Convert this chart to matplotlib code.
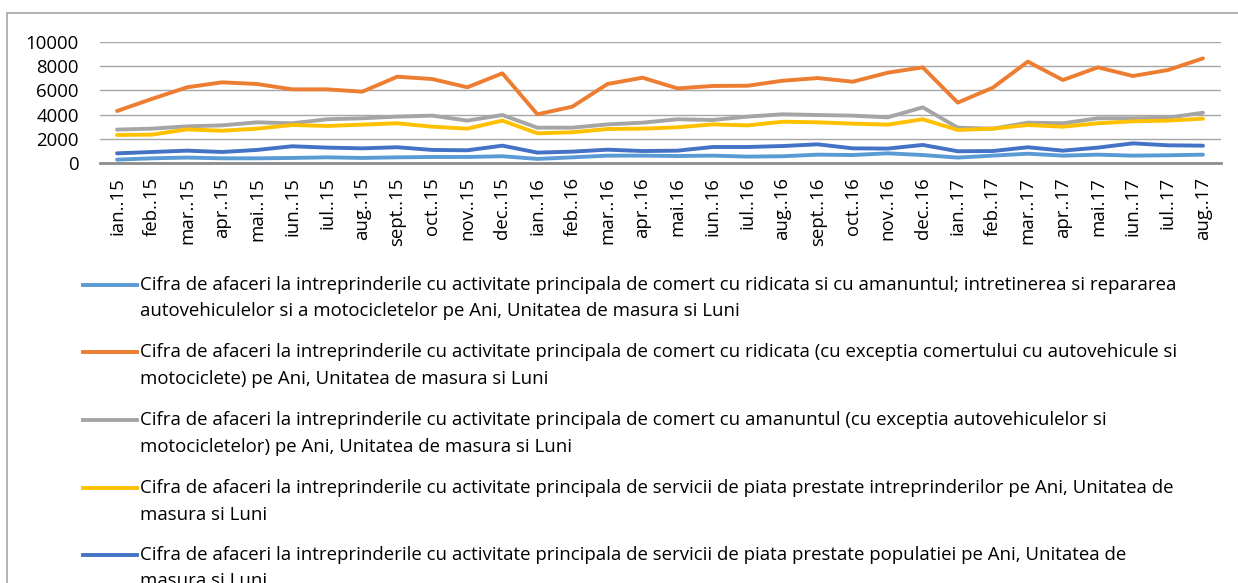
import numpy as np
import matplotlib.pyplot as plt
from matplotlib.lines import Line2D
from matplotlib.patches import Rectangle

plt.rcParams['font.family'] = ['Open Sans', 'DejaVu Sans']

months = ["ian..15", "feb..15", "mar..15", "apr..15", "mai..15", "iun..15", "iul..15", "aug..15",
          "sept..15", "oct..15", "nov..15", "dec..15", "ian..16", "feb..16", "mar..16", "apr..16",
          "mai.16", "iun..16", "iul..16", "aug..16", "sept..16", "oct..16", "nov..16", "dec..16",
          "ian..17", "feb..17", "mar..17", "apr..17", "mai.17", "iun..17", "iul..17", "aug..17"]

auto_moto = [300, 410, 470, 410, 410, 440, 490, 440, 490, 520, 520, 580, 360, 490, 630, 630,
             600, 630, 550, 580, 710, 680, 820, 680, 470, 630, 790, 630, 710, 630, 660, 710]
ridicata = [4300, 5300, 6250, 6660, 6520, 6080, 6080, 5890, 7120, 6930, 6250, 7400, 4030, 4660, 6520, 7040,
            6160, 6360, 6380, 6790, 7010, 6710, 7450, 7890, 4990, 6220, 8360, 6850, 7890, 7180, 7670, 8630]
amanunt = [2770, 2850, 3040, 3120, 3370, 3290, 3620, 3700, 3840, 3920, 3510, 3970, 2930, 2930, 3200, 3340,
           3620, 3560, 3840, 4030, 3970, 3920, 3780, 4600, 2930, 2850, 3340, 3290, 3700, 3700, 3750, 4160]
serv_intrep = [2330, 2360, 2790, 2680, 2850, 3150, 3070, 3180, 3290, 3010, 2850, 3510, 2470, 2550, 2820, 2850,
               2960, 3200, 3120, 3420, 3370, 3260, 3180, 3620, 2740, 2850, 3150, 3010, 3290, 3450, 3510, 3670]
serv_popul = [820, 930, 1040, 930, 1100, 1400, 1290, 1230, 1320, 1100, 1070, 1450, 880, 960, 1120, 1010,
              1040, 1340, 1340, 1420, 1560, 1230, 1210, 1510, 990, 1010, 1320, 1040, 1290, 1640, 1480, 1450]

labels = [
    "Cifra de afaceri la intreprinderile cu activitate principala de comert cu ridicata si cu amanuntul; intretinerea si repararea\n"
    "autovehiculelor si a motocicletelor pe Ani, Unitatea de masura si Luni",
    "Cifra de afaceri la intreprinderile cu activitate principala de comert cu ridicata (cu exceptia comertului cu autovehicule si\n"
    "motociclete) pe Ani, Unitatea de masura si Luni",
    "Cifra de afaceri la intreprinderile cu activitate principala de comert cu amanuntul (cu exceptia autovehiculelor si\n"
    "motocicletelor) pe Ani, Unitatea de masura si Luni",
    "Cifra de afaceri la intreprinderile cu activitate principala de servicii de piata prestate intreprinderilor pe Ani, Unitatea de\n"
    "masura si Luni",
    "Cifra de afaceri la intreprinderile cu activitate principala de servicii de piata prestate populatiei pe Ani, Unitatea de\n"
    "masura si Luni",
]
series = [auto_moto, ridicata, amanunt, serv_intrep, serv_popul]
colors = ["#5B9BD5", "#ED7D31", "#A5A5A5", "#FFC000", "#4472C4"]

W, H = 1238, 583
fig = plt.figure(figsize=(W / 100, H / 100), dpi=100)

# outer chart border (cut off at right and bottom like the original)
fig.add_artist(Rectangle((7 / W, -0.05), 1.2, 1 - 13 / H + 0.05, transform=fig.transFigure,
                         fill=False, edgecolor="#A6A6A6", lw=1.2))

ax = fig.add_axes([99.5 / W, 1 - 163.3 / H, 1121 / W, 121.6 / H])
x = np.arange(len(months))
for vals, c in zip(series, colors):
    ax.plot(x, vals, color=c, lw=2.8, solid_capstyle="round", zorder=3)

fs = 13.4
ax.set_xlim(-0.5, len(months) - 0.5)
ax.set_ylim(0, 10000)
ax.set_yticks(range(0, 10001, 2000))
ax.set_xticks(x)
ax.set_xticklabels(months, rotation=90, fontsize=fs)
ax.tick_params(axis="y", length=0, pad=15, labelsize=fs)
ax.tick_params(axis="x", length=0, pad=10)
ax.grid(axis="y", color="#A6A6A6", lw=1)
for s in ["top", "right", "left"]:
    ax.spines[s].set_visible(False)
ax.spines["bottom"].set_color("#8C8C8C")
ax.spines["bottom"].set_linewidth(2)
ax.set_axisbelow(True)

# legend below, one entry per series with wrapped labels
entry_y = [285, 352, 420, 488, 555]
for lab, c, yy in zip(labels, colors, entry_y):
    fig.add_artist(Line2D([83 / W, 137 / W], [1 - yy / H] * 2, transform=fig.transFigure,
                          color=c, lw=2.8))
    for i, line in enumerate(lab.split("\n")):
        fig.text(140 / W, 1 - (yy + i * 26.5) / H, line, fontsize=fs, va="center", ha="left")

fig.savefig("out.png", dpi=100)
